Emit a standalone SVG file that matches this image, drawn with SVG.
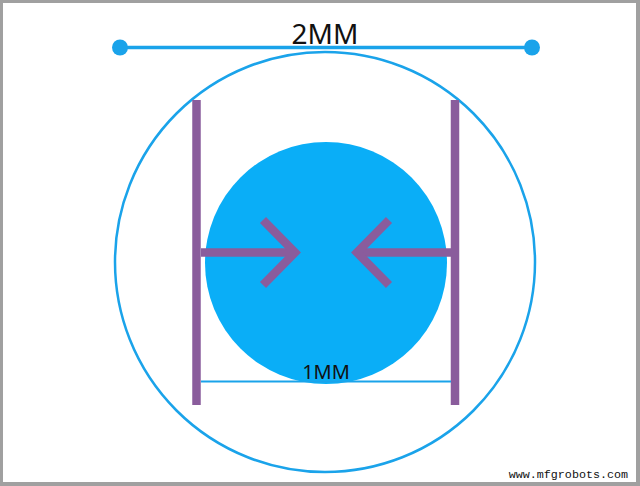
<svg xmlns="http://www.w3.org/2000/svg" width="640" height="486" viewBox="0 0 640 486">
<style>
.bar{stroke:#8a5c9c;stroke-width:8.5;fill:none}
.arr{stroke:#8a5c9c;stroke-width:8.5;fill:none;stroke-linecap:butt;stroke-linejoin:miter}
.dim{stroke:#1aa3ea;fill:none}
.lbl{font-family:"Noto Sans","Open Sans",sans-serif;fill:#111;text-anchor:middle}
</style>
<rect x="0" y="0" width="640" height="486" fill="#a0a0a0"/>
<rect x="3" y="3" width="633" height="479" fill="#ffffff"/>
<g id="outer-circle"><circle cx="325" cy="262" r="210" class="dim" stroke-width="2.5"/></g>
<g id="inner-circle"><circle cx="326" cy="263" r="121" fill="#0aaef7"/></g>
<g id="dim-2mm">
<line x1="120" y1="47.5" x2="532" y2="47.5" class="dim" stroke-width="3.5"/>
<circle cx="120" cy="47.5" r="8" fill="#1aa3ea"/>
<circle cx="532" cy="47.5" r="8" fill="#1aa3ea"/>
<text x="325" y="44" class="lbl" font-size="28">2MM</text>
</g>
<g id="bars">
<line x1="196.5" y1="100" x2="196.5" y2="405" class="bar"/>
<line x1="455" y1="100" x2="455" y2="405" class="bar"/>
</g>
<g id="connectors">
<path d="M201 252.5 H294" class="arr"/>
<path d="M263 220 L295 252.5 L263 285" class="arr"/>
<path d="M451 252.5 H358" class="arr"/>
<path d="M389 220 L357 252.5 L389 285" class="arr"/>
</g>
<g id="dim-1mm">
<line x1="201" y1="381.5" x2="451" y2="381.5" class="dim" stroke-width="2"/>
<text x="326" y="379" class="lbl" font-size="20">1MM</text>
</g>
<text x="628" y="477.5" font-family="Liberation Mono, monospace" font-size="11.7" text-anchor="end" fill="#111">www.mfgrobots.com</text>
</svg>
